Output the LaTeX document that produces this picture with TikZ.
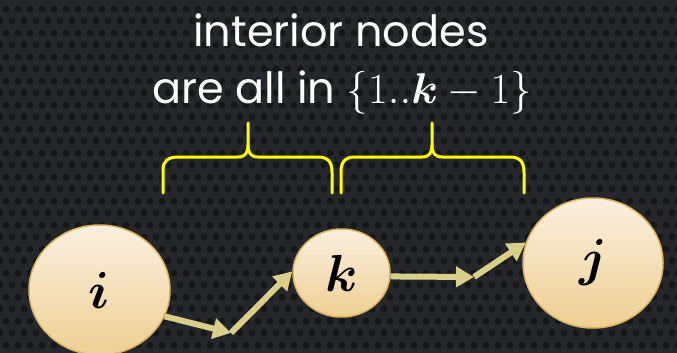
\RequirePackage{fix-cm}
\documentclass[tikz,border=0pt]{standalone}
\usepackage{amsmath,amssymb}
\usepackage{bm}
\usepackage{fontspec}
\setmainfont{Poppins}
\usepackage{tikz}
\usetikzlibrary{arrows.meta,positioning,shapes.geometric}
\definecolor{bgc}{HTML}{25272A}
\definecolor{dotc}{HTML}{161719}
\definecolor{nodetop}{HTML}{FAF0E0}
\definecolor{nodebot}{HTML}{EFCF92}
\definecolor{nodeline}{HTML}{DDB45C}
\definecolor{arc}{HTML}{D8D08A}
\definecolor{bracec}{HTML}{FFFF00}
\tikzset{
  vtx/.style={ellipse,draw=nodeline,line width=1.5pt,top color=nodetop,bottom color=nodebot,inner sep=0pt,font=\fontsize{52}{52}\selectfont},
  ar/.style={-{Triangle[length=18pt,width=20pt]},line width=6pt,arc},
  brc/.style={line width=3pt,bracec,line cap=round},
  ttl/.style={white,anchor=base,font=\fontsize{43}{46}\selectfont}
}

\begin{document}
\begin{tikzpicture}[x=1pt,y=-1pt]
\fill[bgc] (0,0) rectangle (677,353);
\useasboundingbox (0,0) rectangle (677,353);
\foreach \r in {0,...,30}{\foreach \c in {0,...,57}{
  \pgfmathsetmacro{\dx}{mod(\r,2)*6}
  \fill[dotc] (\c*12+\dx,\r*12-3) circle (3.5);}}
\node[ttl] (ttla) at (341,47) {interior nodes};
\node[ttl] (ttlb) at (342,103) {are all in $\{1..\bm{k}-1\}$};
% braces
\draw[brc] (163,193) -- (163,170) .. controls (163,161) and (168,157) .. (178,157) -- (238,157)
  .. controls (245,157) and (248,153) .. (248,145) -- (248,123);
\draw[brc] (248,145) .. controls (248,153) and (251,157) .. (258,157) -- (318,157)
  .. controls (328,157) and (332,162) .. (332,172) -- (332,193);
\draw[brc] (341,193) -- (341,172) .. controls (341,162) and (345,157) .. (355,157) -- (422,157)
  .. controls (429,157) and (432,153) .. (432,145) -- (432,123);
\draw[brc] (432,145) .. controls (432,153) and (435,157) .. (442,157) -- (510,157)
  .. controls (520,157) and (524,162) .. (524,172) -- (524,193);
% nodes
\node[vtx,minimum width=141pt,minimum height=130pt] (i) at (99.5,290) {$\bm{i}$};
\node[vtx,minimum width=97pt,minimum height=88pt] (k) at (341.5,273) {$\bm{k}$};
\node[vtx,minimum width=140pt,minimum height=130pt] (j) at (593,263) {$\bm{j}$};
\coordinate (m1) at (231,333);
\coordinate (m2) at (474,277);
\draw[ar] (i.-22) -- (m1);
\draw[ar] (m1) -- (k.178);
\draw[ar] (k.-4) -- (m2);
\draw[ar] (m2) -- (j.163);
\end{tikzpicture}
\end{document}
